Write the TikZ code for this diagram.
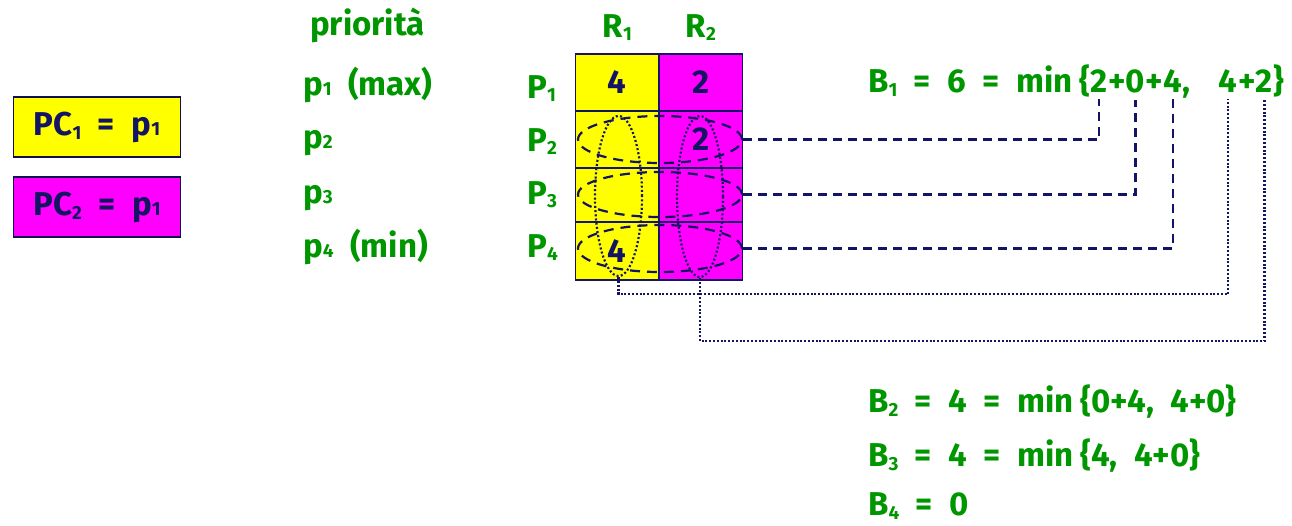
\documentclass[tikz,border=0pt]{standalone}
\usepackage{fontspec}
\setmainfont{Fira Sans}
\usetikzlibrary{shapes.geometric}
\definecolor{navy}{RGB}{20,20,100}
\definecolor{leaf}{RGB}{0,150,0}
\definecolor{fuchsia}{RGB}{255,0,255}
\definecolor{lemon}{RGB}{255,255,0}
% small lowered index digit
\newcommand\sbx[2][4pt]{\raisebox{-#1}{\fontsize{19}{19}\selectfont #2}}

\begin{document}
\begin{tikzpicture}[x=1pt, y=-1pt,
        font=\fontsize{33}{38}\selectfont\bfseries,
        lbl/.style={anchor=base west, inner sep=0pt, text=leaf},
        eqn/.style={anchor=base west, inner xsep=0pt, inner ysep=7pt, text=leaf},
        cell/.style={draw=navy, line width=1.6pt, minimum width=83.5, inner sep=0pt},
        digit/.style={text=navy, inner sep=0pt},
        pcbox/.style={draw=navy!80!black, line width=1.2pt, minimum width=167, minimum height=60, text=navy},
        ring/.style={ellipse, draw=navy, line width=2.2pt, dash pattern=on 10pt off 7pt, minimum width=164, inner sep=0pt},
        colring/.style={ellipse, draw=navy, line width=2.2pt, dash pattern=on 2pt off 2.2pt, inner sep=0pt},
        dashline/.style={draw=navy, line width=2.5pt, dash pattern=on 9pt off 6pt},
        dotline/.style={draw=navy, line width=2.2pt, dash pattern=on 2pt off 1.8pt}]
    \useasboundingbox (0,0) rectangle (1292,525);

    % boxes on the left
    \node[pcbox, fill=lemon] (pc1) at (97,127) {PC\sbx{1}\enspace=\enspace p\sbx[0pt]{1}};
    \node[pcbox, fill=fuchsia] (pc2) at (97,207) {PC\sbx{2}\enspace=\enspace p\sbx[0pt]{1}};

    % priority column
    \node[lbl] (prio) at (310,35) {priorità};
    \node[lbl] (p1) at (303,95) {p\sbx[0pt]{1}\enspace(max)};
    \node[lbl] (p2) at (303,148) {p\sbx[0pt]{2}};
    \node[lbl] (p3) at (303,203) {p\sbx[0pt]{3}};
    \node[lbl] (p4) at (303,257) {p\sbx[0pt]{4}\enspace(min)};

    % process names
    \foreach \r/\y in {1/98, 2/151, 3/204, 4/257}
        \node[lbl] (P\r) at (527,\y) {P\sbx[3pt]{\r}};

    % resource table
    \foreach \r/\y/\h in {1/82.5/57, 2/139.5/57, 3/195/54, 4/251/58} {
        \node[cell, fill=lemon, minimum height=\h] (cell-\r-1) at (617.25,\y) {};
        \node[cell, fill=fuchsia, minimum height=\h] (cell-\r-2) at (700.75,\y) {};
    }
    \node[lbl, anchor=base] (R1) at (cell-1-1 |- 0,37) {R\sbx[3pt]{1}};
    \node[lbl, anchor=base] (R2) at (cell-1-2 |- 0,37) {R\sbx[3pt]{2}};
    \node[digit] (n11) at (cell-1-1) {4};
    \node[digit] (n12) at (cell-1-2) {2};
    \node[digit] (n22) at (cell-2-2) {2};
    \node[digit] (n41) at (cell-4-1) {4};

    % blocking chains
    \node[colring, minimum width=47, minimum height=160] (col1) at (618.5,196) {};
    \node[colring, minimum width=46, minimum height=161] (col2) at (700,196.5) {};
    \node[ring, minimum height=47] (ring2) at (660,139.5) {};
    \node[ring, minimum height=45] (ring3) at (660,194.5) {};
    \node[ring, minimum height=47] (ring4) at (660,248.5) {};

    % blocking times
    \node[eqn] (b1) at (868,92) {B\sbx{1}\enspace=\enspace6\enspace=\enspace min\kern7pt\{};
    \node[eqn] (t1) at (b1.base east) {2};
    \node[eqn] (s1) at (t1.base east) {+};
    \node[eqn] (t2) at (s1.base east) {0};
    \node[eqn] (s2) at (t2.base east) {+};
    \node[eqn] (t3) at (s2.base east) {4};
    \node[eqn] (s3) at (t3.base east) {,\kern28pt};
    \node[eqn] (t4) at (s3.base east) {4};
    \node[eqn] (s4) at (t4.base east) {+};
    \node[eqn] (t5) at (s4.base east) {2};
    \node[eqn] (s5) at (t5.base east) {\}};

    \node[lbl] (b2) at (868,412) {B\sbx{2}\enspace=\enspace4\enspace=\enspace min\kern7pt\{0+4,\enspace4+0\}};
    \node[lbl] (b3) at (868,466) {B\sbx{3}\enspace=\enspace4\enspace=\enspace min\kern7pt\{4,\enspace4+0\}};
    \node[lbl] (b4) at (868,515) {B\sbx{4}\enspace=\enspace0};

    \draw[dashline] (ring2.east) -| (t1.south);
    \draw[dashline] (ring3.east) -| (t2.south);
    \draw[dashline] (ring4.east) -| (t3.south);
    \draw[dotline] (col1.south) -- ++(0,17) -| (t4.south);
    \draw[dotline] (col2.south) -- ++(0,63) -| (t5.south);
\end{tikzpicture}
\end{document}
